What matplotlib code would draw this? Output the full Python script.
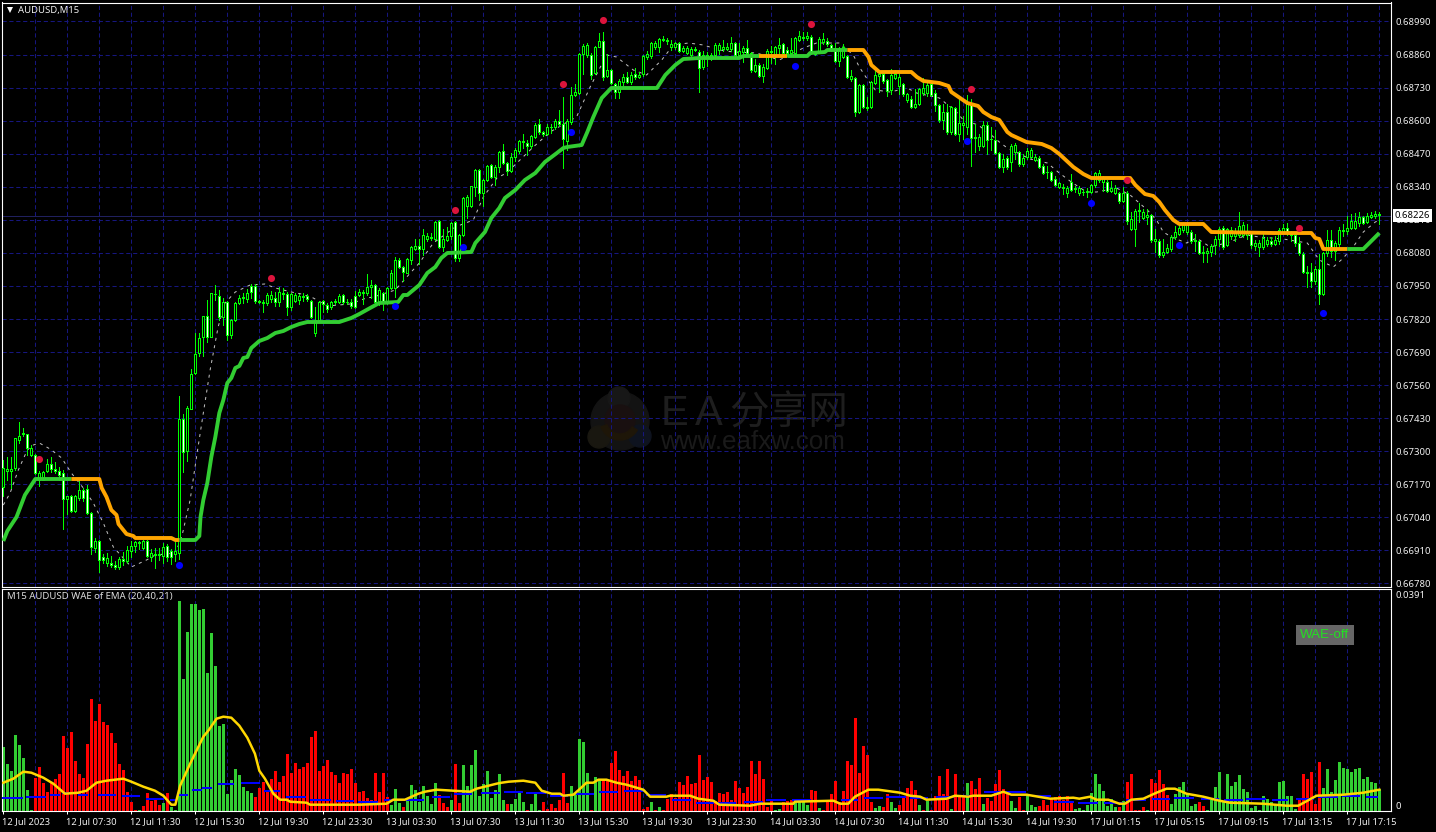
import numpy as np
import matplotlib
matplotlib.use('Agg')
import matplotlib.pyplot as plt
from matplotlib.patches import Circle, Rectangle, Wedge
from matplotlib.transforms import IdentityTransform, ScaledTranslation

# levels: height above the 0.66780 grid line, one grid step = 33 lvl
open_lvl = [
    97,113,113,116,144,150,150,129,129,104, 104,113,120,115,113,111,85,88,73,86,
    94,95,71,36,43,27,21,21,19,17, 25,23,33,38,42,36,43,27,29,30,
    28,38,33,30,31,165,133,175,211,231, 247,268,247,290,288,267,282,249,264,281,
    286,285,298,298,283,281,281,285,286,282, 290,290,277,283,284,288,288,283,251,264,
    283,279,277,282,282,289,282,282,288,289, 291,291,297,299,282,291,282,296,296,324,
    317,311,324,335,338,335,345,346,345,363, 337,344,348,362,326,349,378,378,397,414,
    391,404,419,407,417,433,421,413,427,433, 442,441,438,447,460,452,450,457,457,463,
    460,443,462,489,491,530,529,529,511,537, 543,508,514,500,492,502,507,502,510,507,
    510,527,528,537,537,544,543,537,537,541, 533,531,529,534,532,517,526,525,529,534,
    535,535,535,541,529,532,536,531,513,519, 508,516,532,529,536,540,534,531,531,544,
    546,546,547,532,533,542,543,539,536,523, 527,528,505,506,472,499,477,477,501,508,
    510,504,494,506,498,500,484,485,477,480, 491,491,500,491,479,464,472,452,476,450,
    459,457,481,446,438,438,459,445,444,431, 417,426,422,432,432,420,427,427,424,426,
    418,412,412,405,397,396,391,402,395,391, 392,392,392,399,404,402,402,393,391,391,
    383,391,355,355,373,366,367,369,343,343, 329,332,335,347,350,354,352,352,343,343,
    331,331,332,339,345,356,339,348,348,349, 349,349,351,338,337,337,340,343,340,343,
    353,356,351,349,341,330,312,312,303,315, 290,331,344,333,340,353,353,356,356,361,
    367,362,367,368,369]
close_lvl = [
    116,115,115,146,148,151,136,136,111,111, 112,120,115,113,109,85,88,73,88,94,
    86,71,37,43,24,24,26,19,17,25, 23,34,38,42,41,43,28,31,30,29,
    37,27,27,33,165,132,176,210,230,246, 268,247,291,290,267,282,249,264,281,286,
    287,291,292,283,282,282,289,289,282,292, 291,277,290,289,288,287,285,267,264,282,
    280,275,282,283,288,282,282,278,277,292, 292,297,299,282,294,282,296,311,324,317,
    312,325,337,338,335,349,348,347,362,337, 345,348,361,326,349,386,387,398,414,391,
    404,418,407,417,432,421,413,427,434,443, 443,438,448,459,452,450,457,457,463,460,
    445,463,489,492,530,538,539,509,537,543, 507,514,501,492,503,507,502,509,507,509,
    528,530,541,541,545,545,544,540,541,533, 536,536,535,535,516,529,529,529,539,539,
    537,537,541,529,533,536,531,514,519,508, 517,533,533,537,539,531,531,534,546,548,
    547,548,532,530,545,545,540,536,523,536, 537,507,508,472,499,477,476,502,509,510,
    503,493,509,510,507,490,490,477,480,495, 496,499,489,479,464,472,452,477,450,461,
    461,481,446,447,447,459,444,445,431,417, 425,417,438,439,420,426,433,434,427,417,
    411,412,404,399,401,397,396,394,396,396, 392,393,399,411,411,406,393,396,396,383,
    391,363,365,373,374,372,369,344,345,329, 332,336,347,352,356,359,359,343,344,331,
    332,333,338,345,355,337,355,354,352,358, 359,353,339,341,341,346,344,340,344,354,
    356,351,349,341,331,312,311,303,315,290, 331,344,333,341,354,354,356,363,363,367,
    361,368,369,370,370]
high_lvl = [
    124,127,127,146,162,156,150,139,130,113, 113,125,127,122,117,114,88,89,89,104,
    96,99,72,46,44,30,31,28,23,27, 32,38,43,43,43,44,44,35,36,36,
    41,40,35,43,188,170,178,215,251,251, 268,284,291,299,294,286,283,265,282,289,
    291,295,300,300,284,284,291,293,292,297, 296,292,291,291,290,291,290,284,277,283,
    284,281,283,285,290,290,285,285,293,295, 294,310,304,300,296,292,297,314,327,326,
    318,326,338,345,345,355,351,351,363,364, 355,357,362,363,350,387,389,398,415,415,
    405,419,420,419,433,440,422,431,436,444, 450,444,449,461,465,453,460,460,465,474,
    487,465,497,500,531,540,541,531,538,551, 552,530,515,501,505,510,512,512,516,512,
    529,533,542,543,546,548,546,544,542,542, 538,538,537,537,534,533,532,531,541,541,
    544,541,547,542,541,538,544,532,525,521, 520,535,538,538,546,541,537,546,547,553,
    552,552,549,533,547,551,546,540,541,537, 540,529,514,507,500,500,487,503,515,512,
    512,505,515,514,510,501,491,488,495,496, 506,503,502,494,480,480,480,478,477,488,
    468,489,485,460,450,463,462,457,454,432, 430,428,440,441,433,430,436,436,430,428,
    420,418,413,408,402,400,398,410,398,398, 395,396,400,412,414,408,404,403,399,392,
    397,393,372,375,381,375,375,370,355,345, 345,340,349,358,359,361,362,354,350,344,
    338,336,340,348,357,358,356,357,356,372, 362,360,352,344,344,350,347,347,348,356,
    360,361,353,352,347,332,318,321,318,330, 332,354,354,343,357,360,368,370,371,372,
    368,371,372,373,372]
low_lvl = [
    88,104,96,114,141,148,129,128,110,98, 104,112,112,111,104,55,70,72,72,84,
    83,70,30,32,12,21,18,17,15,15, 19,21,27,32,35,35,27,23,16,24,
    21,23,20,23,25,112,123,175,210,228, 228,242,247,284,264,259,244,246,263,280,
    281,282,286,281,281,272,279,282,278,278, 285,269,274,282,280,283,283,266,248,264,
    272,272,275,280,281,280,280,276,276,288, 280,289,286,281,279,274,280,295,287,316,
    303,311,320,334,320,329,343,344,344,336, 333,343,345,323,323,348,366,377,388,384,
    378,403,406,399,412,420,409,412,423,431, 436,429,436,446,450,448,449,451,455,458,
    416,434,460,488,490,510,527,505,510,537, 504,507,500,486,486,499,501,500,505,506,
    508,525,526,535,532,543,540,534,535,532, 532,530,528,533,492,515,518,524,527,530,
    533,534,533,528,528,522,529,512,512,507, 502,515,521,520,530,530,528,529,530,543,
    544,544,530,529,532,540,538,533,522,518, 526,506,503,468,471,476,474,476,500,492,
    501,488,490,505,490,488,482,476,476,479, 489,488,488,473,462,455,450,450,449,443,
    445,450,418,432,434,437,430,434,430,416, 412,415,413,425,418,418,425,426,423,416,
    410,406,403,398,396,390,387,393,392,389, 389,387,391,397,402,393,392,392,390,381,
    382,360,354,338,362,365,360,342,332,327, 327,331,333,345,349,352,350,341,333,330,
    322,322,328,330,338,335,338,345,343,347, 347,345,336,334,328,335,338,338,339,340,
    350,349,343,338,329,311,297,297,300,280, 289,328,327,324,338,348,350,355,355,358,
    360,361,366,366,360]

# trailing stop line, read at its corners
trail_idx = [0,1,3.3,5.4,8,17,24,24.6,25.8,27,28.3,28.8,30.8,32.5,33,42,43,44,48,49,49.3,50,51,52,53,54,55,56,57,58,59,60,61,62,64,66,68,70,72,74,76,84,87,89,91.7,94,98.7,100,101,104,106,108,109.5,111,117,118,120.4,122,124,125.4,128,130.4,133,135.4,138.4,140,141,144.6,146,147.5,149.6,152,163.4,165.5,168,170,174,184,185,189,196,201,201.7,205.4,206,211,215,216.3,217,219,227,228.4,230,234,236.3,237,241,243.7,245,247,249,251,252,255.8,259.6,262,264,267.5,270,272,281.7,283,285.4,287.5,289,290.4,292.5,294,300,302,317.5,327,328,329,330,336,340,344]
trail_lvl = [43,53,67,89,105,105,105,96,87,74,69,60,50,48,46,46,44,44,44,48,67,84,101,127,147,171,184,201,206,216,218,226,227,236,243,246,251,253,257,260,262,262,266,270,276,281,282,289,289,299,311,317,326,331,332,341,352,366,376,386,394,404,411,422,431,436,437,439,452,467,486,496,496,509,519,525,526,526,528,528,528,528,531,532,534,534,534,527,519,512,512,507,503,501,498,492,481,478,472,467,464,452,449,442,440,436,430,417,410,406,406,399,390,388,382,374,364,360,360,352,351,351,346,345,335,335,335,351]
trail_edges = [0, 17, 44, 189, 196, 211, 336, 344]
trail_colors = ['#32cd32', '#ffa500', '#32cd32', '#ffa500', '#32cd32', '#ffa500', '#32cd32']

# thin dashed average
ma_idx = [0,1.7,3.75,6,7.5,9,11.7,14.6,17,20,22.5,25,27.5,32,35.8,38,43,44.6,46.7,48.3,50,51.7,53.7,55.4,58,61.7,65.4,68,72,74.5,77.5,81,86.7,90.8,92.5,98,101.3,104,107.5,113,117.5,120,123.4,125.8,132.5,136.7,141,143.3,146.7,150.8,153.3,157.5,160.8,164.6,167.5,171.3,175,179,182.5,188.3,194,200,203.3,209,212.5,214,215.8,218,221.7,226,228.3,234,238.3,240,243.7,247,249,251,256.7,261,264,267,270.8,273.3,278.3,281.7,286,288.3,290,292,295.8,298.3,301.7,306.7,310.8,314,320,326,329,332.5,335,337.8,340,343,344]
ma_lvl = [79,91,114,134,139,141,135,126,111,96,81,61,37,17,24,29,31,47,84,127,171,214,257,281,292,299,300,296,292,290,286,278,280,286,287,294,309,321,341,357,364,387,406,411,437,452,462,467,497,529,527,514,509,524,539,541,539,534,532,531,524,536,541,541,529,517,506,494,492,496,491,486,472,464,459,449,442,436,425,421,411,402,392,392,396,389,374,364,352,347,341,346,337,342,349,347,345,341,324,317,326,339,352,362,364]

# signal dots
red_idx = [9, 67, 113, 140, 150, 202, 242, 281, 324]
red_lvl = [125, 306, 374, 500, 564, 560, 495, 404, 356]
blue_idx = [44, 98, 115, 142, 198, 241, 272, 294, 330]
blue_lvl = [19, 278, 337, 452, 518, 443, 381, 339, 271]

# WAE histogram, green up / red (negative here) down, in 1/220 of the 0.0391 scale
wae_hist = [
    64,47,40,76,66,53,21,1,-33,-44, -28,-19,-28,-32,-37,-75,-63,-79,-50,-37,
    -33,-67,-112,-90,-107,-89,-86,-78,-68,-47, -41,-19,-9,-1,1,-5,-18,-10,-11,-6,
    8,-18,4,1,210,132,179,207,207,201, 202,138,178,145,85,87,17,31,42,36,
    24,20,18,-14,-23,-29,-21,-32,-40,-29, -35,-57,-38,-48,-42,-44,-48,-74,-80,-40,
    -45,-51,-39,-36,-28,-38,-37,-42,-28,-19, -20,-13,-11,-38,-19,-38,-14,6,22,8,
    -4,10,26,21,9,25,15,7,28,-16, -8,-4,11,-47,-8,46,25,46,61,15,
    27,40,13,21,37,11,-7,7,12,18, 9,-1,7,17,1,-9,-2,-7,-3,-11,
    -38,-8,25,17,72,69,38,-1,34,30, -31,-30,-48,-60,-41,-35,-40,-30,-35,-31,
    -2,-4,9,-1,4,-1,-12,-17,-13,-29, -26,-35,-27,-28,-56,-31,-34,-29,-10,-18,
    -17,-19,-11,-30,-23,-18,-24,-50,-37,-50, -32,-4,-10,1,2,-9,-10,-11,10,12,
    10,6,-21,-20,3,-1,-9,-17,-30,-9, -20,-50,-46,-93,-38,-65,-56,-9,3,5,
    -4,-17,9,3,-6,-14,-23,-30,-21,6, -1,10,-1,-15,-35,-17,-42,2,-37,-14,
    -14,28,-30,-22,-33,7,-13,-10,-27,-41, -22,-19,10,3,-14,-1,15,6,4,-5,
    -11,-6,-13,-14,-15,-11,-15,-10,2,3, 1,6,18,37,27,20,5,12,4,-4,
    10,-29,-37,-1,-1,-4,1,-32,-28,-41, -27,-16,7,17,24,29,18,5,7,-9,
    -5,1,12,24,39,9,37,25,29,36, 22,19,3,5,1,15,12,9,7,29,
    30,15,15,2,-11,-37,-32,-39,-7,-49, 23,42,19,31,49,43,42,39,42,43,
    32,34,29,28,22]

# yellow explosion line
exp_idx = [0,2.5,5,7,10,12.5,15.4,18.75,20.8,23.3,25.8,30,32,35,37.9,40,42,43,44.2,46.7,50,51.25,53.3,55,57,59,61,62.9,64,65.4,67.5,69.2,70.8,71.7,75.8,76.7,89,95.8,97.5,100.4,103.75,105.4,108.3,112.5,116.7,118.3,123.3,124.6,126.3,130,133,134.6,137.1,139.2,140,142.5,144.2,145.8,147.5,148.75,150.8,153.3,155.8,160,161.7,165.8,166.7,171.7,173.75,177.5,179,186.7,189.2,197.5,197.9,207.5,209.2,211.25,212.9,216.25,218.75,224.2,226.7,229.2,230.8,235.8,237.9,241.25,242.5,247,250,252,255.8,261.7,267.5,269,271.7,273.3,276.25,279,280.4,282,285,288.3,290.8,292.9,295.8,300,304,306.7,315,320.8,323.75,328.3,335,340,344]
exp_lvl = [28,32,39,38,33,27,17,18,20,28,30,32,29,24,20,15,6,6,25,47,74,80,92,94,93,85,73,57,40,32,17,11,11,9,8,6,6,7,11,11,17,19,21,20,19,22,27,28,29,30,28,20,17,17,15,16,22,28,28,31,31,28,26,21,14,14,15,15,12,10,6,5,7,7,9,10,7,7,14,21,21,18,15,14,11,12,15,14,15,15,19,16,16,12,13,12,14,11,11,7,7,11,12,18,22,22,17,14,10,8,7,5,5,15,16,18,21]

# blue dead zone dashes
dz_start = [0,6,12,15,19,24,30,36,42,44,47.5,50,54,59.6,65.4,71,77,83.3,89,95.4,101,107.5,113,119.6,125.4,131,137,143.3,149.2,155.4,161,167.5,173.5,179,185.4,191,197.5,203.4,209.6,215.4,221,227,233.3,239,245.4,251,257.5,263,269,275.4,281,287.5,293,299.6,305.4,311,317.5,323.4,329,335,341]
dz_end = [4.6,10.4,14,17,21,28,34,40,43,46,49.5,52,57.5,64,69,75.4,81.7,87.5,93.3,98.7,105,111.5,117,123.8,129.6,135.4,141,147.5,153.5,160,165.5,171.7,177.5,183,189.6,195.4,201.7,207.5,213.3,219.6,225.4,231,237.5,243.3,249.6,255.4,261.7,267.5,273.3,279.6,285.4,291.5,297.5,303.75,309.6,315.4,321,327.5,333.5,339,343.4]
dz_lvl = [13,14,16,18,16,16,15,12,11,16,21,23,27,28,20,14,11,10,9,11,11,14,17,18,19,18,15,17,19,20,16,11,8,8,9,11,11,10,11,13,14,13,14,15,19,19,15,9,8,8,11,12,13,12,11,12,11,12,14,15,14]

price_ticks = [0.68990,0.68860,0.68730,0.68600,0.68470,0.68340,0.68210,0.68080,0.67950,0.67820,0.67690,0.67560,0.67430,0.67300,0.67170,0.67040,0.66910,0.66780]
bid_price = 0.68226
time_idx = list(range(0, 337, 16))
time_labels = ['12 Jul 2023','12 Jul 07:30','12 Jul 11:30','12 Jul 15:30','12 Jul 19:30','12 Jul 23:30',
               '13 Jul 03:30','13 Jul 07:30','13 Jul 11:30','13 Jul 15:30','13 Jul 19:30','13 Jul 23:30',
               '14 Jul 03:30','14 Jul 07:30','14 Jul 11:30','14 Jul 15:30','14 Jul 19:30',
               '17 Jul 01:15','17 Jul 05:15','17 Jul 09:15','17 Jul 13:15','17 Jul 17:15']

STEP = 0.0013 / 33.06
WAE_MAX = 0.0391
WAE_STEP = WAE_MAX / 220


def lvl_price(values):
    return 0.66780 + (np.asarray(values, dtype=float) - 0.5) * STEP


plt.rcParams['font.family'] = ['Noto Sans', 'DejaVu Sans']
W, H = 1436, 832
GRID = '#16167e'
FG = '#f0f0f0'
GRID_KW = dict(color=GRID, lw=0.75, ls=(0, (4, 2.6)), zorder=1, snap=True)

fig = plt.figure(figsize=(W / 100, H / 100), dpi=100, facecolor='black')
ax = fig.add_axes([2 / W, 1 - 586.5 / H, 1389 / W, 584 / H], facecolor='none')
ax2 = fig.add_axes([2 / W, 1 - 810.7 / H, 1389 / W, 222 / H], facecolor='none')

# watermark sits behind both panes
ident = IdentityTransform()
for cx, cy, r, col in [(620, 421, 29, '#131313'), (619, 398, 11, '#171717'), (599, 437, 11, '#191710'),
                       (640, 436, 11, '#0e131f'), (620, 420, 15, '#191010')]:
    fig.add_artist(Circle((cx, H - cy), r, color=col, transform=ident, zorder=-2))
fig.add_artist(Wedge((620, H - 420), 20, 200, 330, width=6, color='#1e1608', transform=ident, zorder=-2))
wm = '#1e1e1e'
fig.text(661, H - 425, 'E', color=wm, fontsize=30, family='Liberation Sans', transform=ident, zorder=-1)
fig.text(695, H - 425, 'A', color=wm, fontsize=30, family='Liberation Sans', transform=ident, zorder=-1)
fig.text(729, H - 424, '分享网', color=wm, fontsize=28.5, family=['Noto Sans CJK SC', 'DejaVu Sans'],
         transform=ident, zorder=-1)
fig.text(660, H - 449, 'www.eafxw.com', color='#1a1a1a', fontsize=18.7, family='Liberation Sans',
         transform=ident, zorder=-1)

x = np.arange(len(close_lvl))
o = lvl_price(open_lvl)
c = lvl_price(close_lvl)
hi = lvl_price(high_lvl)
lo = lvl_price(low_lvl)

# main pane
for p in price_ticks:
    ax.axhline(p, **GRID_KW)
for a in (ax, ax2):
    for i in range(8, 345, 8):
        a.axvline(i, **GRID_KW)
ax.axhline(bid_price, color='#20205e', lw=0.75, zorder=1, snap=True)

ax.plot(ma_idx, lvl_price(ma_lvl), color='#c0c0c0', lw=0.72, ls=(0, (3, 4.5)), zorder=2)
ax.vlines(x, lo, hi, color='#00ff00', lw=0.72, zorder=3, antialiased=False)
bull = c >= o
ax.bar(x[bull], (c - o)[bull], bottom=o[bull], width=0.5, color='black', edgecolor='#00ff00', lw=0.72,
       zorder=3, antialiased=False)
ax.bar(x[~bull], (c - o)[~bull], bottom=o[~bull], width=0.5, color='white', edgecolor='#00ff00', lw=0.72,
       zorder=3, antialiased=False)

t_idx = np.array(trail_idx)
t_lvl = lvl_price(trail_lvl)
for k, col in enumerate(trail_colors):
    m = (t_idx >= trail_edges[k]) & (t_idx <= trail_edges[k + 1])
    ax.plot(t_idx[m], t_lvl[m], color=col, lw=2.8, zorder=4, solid_capstyle='butt', solid_joinstyle='round')

ax.scatter(red_idx, lvl_price(red_lvl), s=26, color='#dc143c', zorder=5, linewidths=0)
ax.scatter(blue_idx, lvl_price(blue_lvl), s=26, color='#0000ff', zorder=5, linewidths=0)

# bars land a little left of the pixel centre so the snapped candle edges stay green
ax.set_xlim(-0.33, 346.92)
ax.set_ylim(lvl_price(-2.5), lvl_price(581.5))
ax.set_xticks([])
ax.yaxis.tick_right()
ax.set_yticks(price_ticks)
ax.set_yticklabels(['%.5f' % p for p in price_ticks])
ax.tick_params(axis='y', length=0, pad=3, labelsize=6.85, labelcolor=FG)
ax.text(1.0028, bid_price, '%.5f' % bid_price, transform=ax.get_yaxis_transform(), color='black', fontsize=6.85,
        va='center', ha='left', zorder=6, clip_on=False,
        bbox=dict(facecolor='white', edgecolor='none', pad=1.3))
ax.plot([0.0055], [0.9865], marker='v', ms=5, color='white', mew=0, transform=ax.transAxes, zorder=6)
ax.text(0.0115, 0.9865, 'AUDUSD,M15', transform=ax.transAxes, color=FG, fontsize=6.85, va='center', ha='left', zorder=6)

# WAE pane
hist = np.array(wae_hist, dtype=float)
cols = np.where(hist >= 0, '#32cd32', '#ff0000')
ax2.bar(x, np.abs(hist) * WAE_STEP, width=0.75, color=cols, lw=0, zorder=2, antialiased=False)
for a0, a1, l in zip(dz_start, dz_end, dz_lvl):
    ax2.plot([a0, a1], [l * WAE_STEP, l * WAE_STEP], color='#0000ff', lw=1.1, zorder=3, antialiased=False)
ax2.plot(exp_idx, np.array(exp_lvl) * WAE_STEP, color='#ffd700', lw=1.8, zorder=4)
ax2.set_xlim(ax.get_xlim())
ax2.set_ylim(0, WAE_MAX * 222 / 220)
ax2.set_xticks(time_idx)
ax2.set_xticklabels(time_labels, ha='left')
ax2.tick_params(axis='x', length=2, width=0.72, color='white', pad=2.5, labelsize=6.75, labelcolor=FG)
shift = ScaledTranslation(-1 / 100, 0, fig.dpi_scale_trans)
for lab in ax2.get_xticklabels():
    lab.set_transform(lab.get_transform() + shift)
ax2.yaxis.tick_right()
ax2.set_yticks([0, WAE_MAX])
ax2.set_yticklabels(['0', '0.0391'])
ax2.tick_params(axis='y', length=0, pad=3, labelsize=6.85, labelcolor=FG)
ylabels = ax2.get_yticklabels()
ylabels[0].set_va('bottom')
ylabels[1].set_va('top')
ax2.text(0.0036, 0.966, 'M15 AUDUSD WAE of EMA (20,40,21)', transform=ax2.transAxes, color='#dcdcdc',
         fontsize=6.95, va='center', ha='left', zorder=6)
ax2.add_patch(Rectangle((1294 / 1389, (810.7 - 645) / 222), 58 / 1389, 20 / 222, transform=ax2.transAxes,
                        facecolor='#666666', edgecolor='none', zorder=6))
ax2.text(1323 / 1389, (810.7 - 635) / 222, 'WAE-off', transform=ax2.transAxes, color='#22e022', fontsize=9.6,
         family='Liberation Sans', ha='center', va='center', zorder=7)

for a in (ax, ax2):
    for s in a.spines.values():
        s.set_color('white')
        s.set_linewidth(0.8)

fig.savefig('out.png', dpi=100, facecolor='black')
